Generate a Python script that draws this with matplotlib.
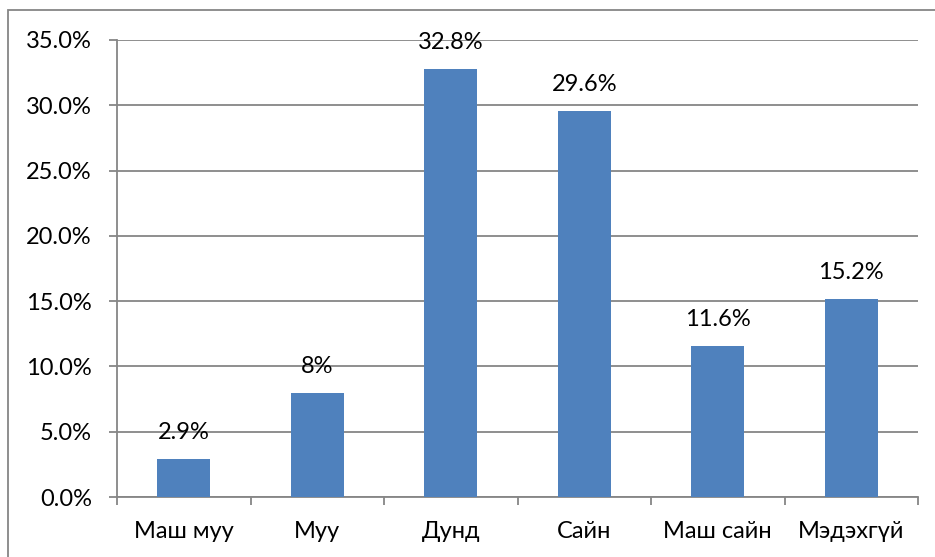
import matplotlib
matplotlib.use("Agg")
import matplotlib.pyplot as plt
from matplotlib.patches import Rectangle
from matplotlib.ticker import FixedLocator, FuncFormatter

categories = ["Маш муу", "Муу", "Дунд", "Сайн", "Маш сайн", "Мэдэхгүй"]
values = [2.9, 8.0, 32.8, 29.6, 11.6, 15.2]
labels = ["2.9%", "8%", "32.8%", "29.6%", "11.6%", "15.2%"]
yticks = [0, 5, 10, 15, 20, 25, 30, 35]

plt.rcParams['font.family'] = ['Lato', 'DejaVu Sans']
W, H = 935, 557
fig = plt.figure(figsize=(W/100, H/100), dpi=100)
grey = "#868686"
fs = 17

# outer chart border
fig.patches.append(Rectangle((8/W, -0.1), 1.2, 1 - 10/H + 0.1, transform=fig.transFigure,
                             fill=False, edgecolor=grey, linewidth=1.3))

ax = fig.add_axes([117/W, 1 - 497/H, (918-117)/W, (497-40)/H])
x = list(range(len(categories)))
ax.bar(x, values, width=0.4, color="#4F81BD", zorder=3)
ax.set_xlim(-0.5, len(categories) - 0.5)
ax.set_ylim(0, 35)

ax.yaxis.set_major_locator(FixedLocator(yticks))
ax.yaxis.set_major_formatter(FuncFormatter(lambda v, p: f"{v:.1f}%"))
ax.grid(axis='y', color=grey, linewidth=1.3, zorder=0)
ax.set_axisbelow(True)

ax.set_xticks([i - 0.5 for i in range(len(categories) + 1)])
ax.set_xticklabels([])
ax.set_xticks(x, minor=True)
ax.set_xticklabels(categories, minor=True)
ax.tick_params(axis='x', which='major', length=6, color=grey, width=1.3, direction='out')
ax.tick_params(axis='x', which='minor', length=0, pad=17, labelsize=fs)
ax.tick_params(axis='y', length=6, color=grey, width=1.3, direction='out', pad=12, labelsize=fs)

for s in ['top', 'right']:
    ax.spines[s].set_visible(False)
for s in ['left', 'bottom']:
    ax.spines[s].set_color(grey)
    ax.spines[s].set_linewidth(1.3)

for xi, v, lab in zip(x, values, labels):
    ax.annotate(lab, (xi, v), xytext=(0, 19), textcoords='offset points',
                ha='center', va='center', fontsize=fs, zorder=5)

fig.savefig("out.png", dpi=100)
